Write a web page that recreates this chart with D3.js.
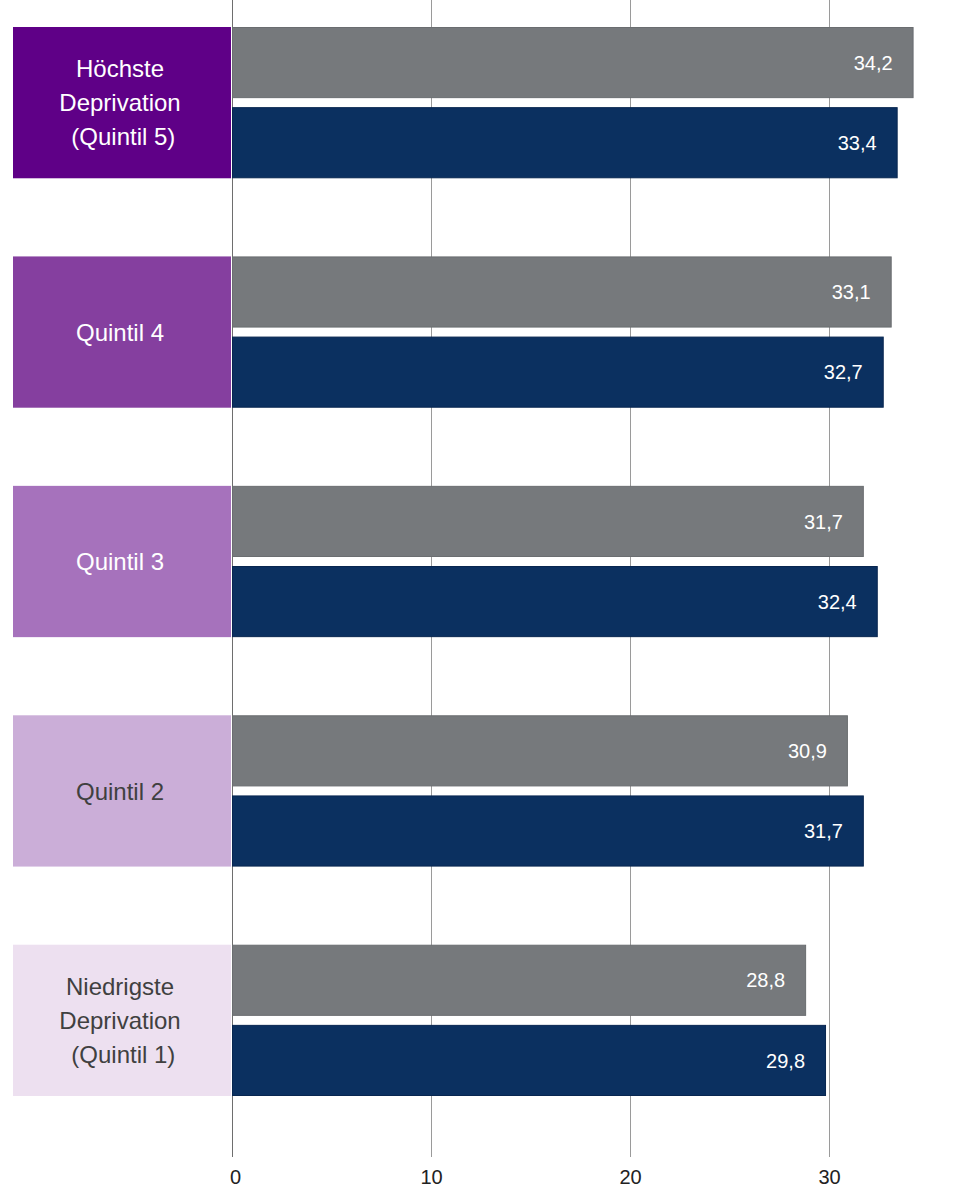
<!DOCTYPE html>
<html><head><meta charset="utf-8">
<script src="https://cdn.jsdelivr.net/npm/d3@7"></script>
<style>body{margin:0;background:#fff;} svg text{font-family:"Liberation Sans",Arial,sans-serif;white-space:pre;}</style>
</head><body><svg id="c" width="959" height="1200" font-family="Liberation Sans"></svg>
<script>
const categories = [["Höchste","Deprivation"," (Quintil 5)"],["Quintil 4"],["Quintil 3"],["Quintil 2"],["Niedrigste","Deprivation"," (Quintil 1)"]];
const categoryIds = ["Q5","Q4","Q3","Q2","Q1"];
const seriesNames = ["A","B"];
const seriesA = [34.2, 33.1, 31.7, 30.9, 28.8];
const seriesB = [33.4, 32.7, 32.4, 31.7, 29.8];
const ticks = [0, 10, 20, 30];
const boxColors = ["#5f0087","#853f9f","#a672bc","#cbaed8","#ede0f0"];
const boxText = ["#fff","#fff","#fff","#404040","#404040"];
const barColors = ["#76797c","#0b3060"];
const barStroke = ["#6a6d70","#082650"];
const FONT = "'Liberation Sans', Arial, sans-serif";

const svg = d3.select("#c");
const x = d3.scaleLinear().domain([0,30]).range([232,829]);
const y = d3.scaleBand().domain(categoryIds).range([27,1096]).paddingInner(78/229).paddingOuter(0);
const ys = d3.scaleBand().domain(seriesNames).range([0,y.bandwidth()]).paddingInner(9/80);

// gridlines
svg.append("g").selectAll("line").data(ticks).join("line")
  .attr("x1",d=>x(d)+0.5).attr("x2",d=>x(d)+0.5).attr("y1",0).attr("y2",1157)
  .attr("stroke",d=>d===0?"#6e6e6e":"#9a9a9a").attr("stroke-width",1);

// axis labels
const ax = d3.axisBottom(x).tickValues(ticks).tickFormat(d3.format("d")).tickSize(0).tickPadding(0);
const axg = svg.append("g").attr("transform","translate(0,1166)").call(ax).attr("font-family",FONT);
axg.select(".domain").remove();
axg.selectAll("text").style("font-family",FONT).attr("font-size",20).attr("fill","#222").attr("dy","0.9em");
axg.selectAll(".tick").filter(d=>d===0).select("text").attr("dx",3);

// category boxes
const g = svg.append("g").selectAll("g").data(categoryIds).join("g")
  .attr("transform",d=>`translate(0,${y(d)})`);
g.append("rect").attr("x",13).attr("width",218).attr("height",y.bandwidth())
  .attr("fill",(d,i)=>boxColors[i]);
g.each(function(d,i){
  const lines = categories[i];
  const t = d3.select(this).append("text").attr("text-anchor","middle")
    .style("font-family",FONT).attr("font-size",24).attr("fill",boxText[i]);
  const lh = 34;
  const c = y.bandwidth()/2;
  lines.forEach((l,k)=>{
    t.append("tspan").attr("x",120).attr("y",c + (k-(lines.length-1)/2)*lh).attr("dy","0.36em").text(l);
  });
});

// bars
const fmt = v => d3.format(".1f")(v).replace(".",",");
[seriesA, seriesB].forEach((vals, si)=>{
  const bg = svg.append("g");
  bg.selectAll("rect").data(vals).join("rect")
    .attr("x",x(0)+0.5).attr("y",(d,i)=>y(categoryIds[i])+ys(seriesNames[si])+0.5)
    .attr("width",d=>x(d)-x(0)).attr("height",ys.bandwidth()-1)
    .attr("fill",barColors[si]).attr("stroke",barStroke[si]).attr("stroke-width",1);
  bg.selectAll("text").data(vals).join("text")
    .attr("x",d=>x(d)-20).attr("y",(d,i)=>y(categoryIds[i])+ys(seriesNames[si])+ys.bandwidth()/2)
    .attr("dy","0.36em").attr("text-anchor","end").style("font-family",FONT).attr("font-size",20).attr("fill","#fff")
    .text(d=>fmt(d));
});
</script></body></html>
